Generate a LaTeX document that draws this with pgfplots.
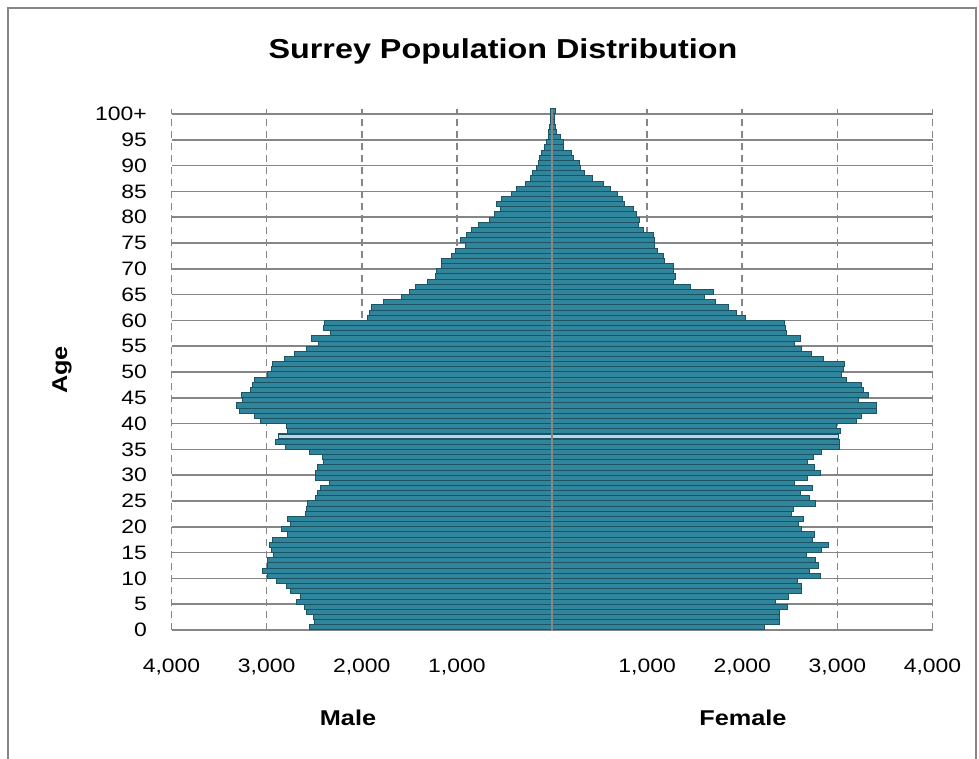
\documentclass[border=0pt]{standalone}
\usepackage{fontspec}
\setmainfont{Liberation Sans}[FakeStretch=1.18]
\usepackage{pgfplots}
\usepackage{pgfplotstable}
\pgfplotsset{compat=1.18}

\definecolor{barfill}{RGB}{47,133,155}
\definecolor{bardraw}{RGB}{28,84,100}
\definecolor{hilite}{RGB}{190,210,232}
\definecolor{gridgrey}{RGB}{134,134,134}

% single year of age, male counts negative so they run to the left
\pgfplotstableread{
age male female
0 -2551 2239
1 -2498 2393
2 -2505 2393
3 -2579 2393
4 -2604 2474
5 -2681 2354
6 -2646 2484
7 -2751 2618
8 -2789 2618
9 -2891 2579
10 -2986 2818
11 -3042 2712
12 -2996 2804
13 -2996 2775
14 -2926 2677
15 -2944 2835
16 -2972 2902
17 -2940 2740
18 -2779 2758
19 -2839 2625
20 -2751 2593
21 -2782 2642
22 -2596 2516
23 -2579 2537
24 -2568 2775
25 -2481 2709
26 -2460 2611
27 -2435 2740
28 -2340 2554
29 -2488 2681
30 -2481 2825
31 -2463 2761
32 -2400 2688
33 -2411 2751
34 -2551 2832
35 -2804 3025
36 -2902 3025
37 -2877 3011
38 -2779 3035
39 -2789 2986
40 -3067 3204
41 -3130 3249
42 -3288 3407
43 -3312 3407
44 -3253 3221
45 -3263 3326
46 -3172 3274
47 -3144 3256
48 -3123 3098
49 -2986 3046
50 -2954 3063
51 -2937 3070
52 -2811 2853
53 -2705 2730
54 -2586 2625
55 -2453 2554
56 -2533 2611
57 -2330 2460
58 -2400 2453
59 -2389 2442
60 -1944 2032
61 -1919 1940
62 -1902 1860
63 -1772 1723
64 -1586 1607
65 -1498 1695
66 -1435 1456
67 -1312 1274
68 -1228 1298
69 -1210 1274
70 -1165 1274
71 -1165 1186
72 -1060 1175
73 -1014 1105
74 -912 1081
75 -961 1074
76 -902 1063
77 -849 965
78 -772 905
79 -656 923
80 -604 888
81 -544 860
82 -586 765
83 -533 737
84 -428 688
85 -368 614
86 -277 537
87 -228 421
88 -207 337
89 -165 302
90 -140 284
91 -135 221
92 -112 204
93 -80 126
94 -60 116
95 -42 88
96 -32 46
97 -25 39
98 -18 28
99 -14 21
100 -18 39
}\pyramid

% the highlighted year
\pgfplotstableread{
age male female
37 -2877 3011
}\hilited

\begin{document}
\begin{tikzpicture}
\begin{axis}[
    anchor=south west,
    scale only axis,
    width=761bp, height=521.2bp,
    xmin=-4000, xmax=4000,
    ymin=-0.5, ymax=100.5,
    axis line style={draw=none},
    tick style={draw=none},
    xtick={-4000,-3000,-2000,-1000,1000,2000,3000,4000},
    xticklabels={{4,000},{3,000},{2,000},{1,000},{1,000},{2,000},{3,000},{4,000}},
    ytick={-0.5,4.5,9.5,14.5,19.5,24.5,29.5,34.5,39.5,44.5,49.5,
           54.5,59.5,64.5,69.5,74.5,79.5,84.5,89.5,94.5,99.5},
    yticklabels={0,5,10,15,20,25,30,35,40,45,50,55,60,65,70,75,80,85,90,95,100+},
    xmajorgrids, ymajorgrids,
    x grid style={gridgrey, line width=1.6bp, dash pattern=on 7bp off 5bp},
    y grid style={gridgrey, line width=1.6bp},
    x tick label style={font=\fontsize{19.5}{20}\selectfont, anchor=center,
        inner sep=0pt, yshift=-37bp},
    y tick label style={font=\fontsize{19.5}{20}\selectfont, anchor=east,
        inner sep=0pt, xshift=-24.5bp},
]
\addplot[xbar, bar width=1, bar shift=0pt, fill=barfill, draw=bardraw,
    line width=1bp] table[x=male, y=age] {\pyramid};
\addplot[xbar, bar width=1, bar shift=0pt, fill=barfill, draw=bardraw,
    line width=1bp] table[x=female, y=age] {\pyramid};
\addplot[xbar, bar width=1, bar shift=0pt, fill=hilite, draw=bardraw,
    line width=1.4bp] table[x=male, y=age] {\hilited};
\addplot[xbar, bar width=1, bar shift=0pt, fill=hilite, draw=bardraw,
    line width=1.4bp] table[x=female, y=age] {\hilited};
\draw[gridgrey, line width=2bp] (axis cs:0,-0.5) -- (axis cs:0,100.5);
\end{axis}

% page furniture, in pixels of the 979x759 frame (origin bottom left)
\begin{scope}[x=1bp, y=1bp, shift={(-171.5bp,-129bp)}]
\node[font=\fontsize{27.5}{30}\selectfont\bfseries] at (503,708)
    {Surrey Population Distribution};
\node[font=\fontsize{21.5}{24}\selectfont\bfseries, rotate=90] at (62,389) {Age};
\node[font=\fontsize{21.5}{24}\selectfont\bfseries] at (348,41) {Male};
\node[font=\fontsize{21.5}{24}\selectfont\bfseries] at (743,41) {Female};
\draw[gridgrey, line width=1.2bp] (8,-5) -- (8,751) -- (976,751) -- (976,-5);
\pgfresetboundingbox
\useasboundingbox (0,0) rectangle (979,759);
\end{scope}
\end{tikzpicture}
\end{document}
